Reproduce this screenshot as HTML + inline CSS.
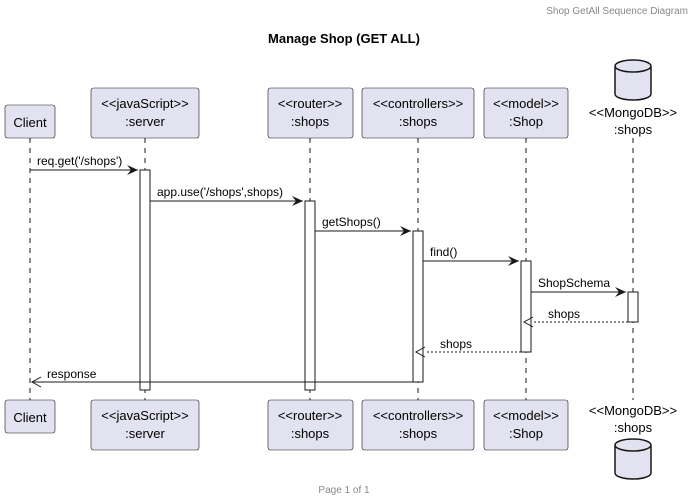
<!DOCTYPE html>
<html><head><meta charset="utf-8"><style>body{margin:0;background:#fff}svg{display:block}text{font-family:"Liberation Sans",sans-serif}</style></head><body>
<svg width="694" height="502" viewBox="0 0 694 502" xmlns="http://www.w3.org/2000/svg">
<text x="688" y="14" font-size="10" fill="#888" text-anchor="end">Shop GetAll Sequence Diagram</text>
<text x="344" y="43" font-size="13" font-weight="bold" text-anchor="middle">Manage Shop (GET ALL)</text>
<g stroke="#181818" stroke-width="1" stroke-dasharray="5,5">
<line x1="30" y1="138" x2="30" y2="400"/><line x1="145" y1="138" x2="145" y2="400"/><line x1="310" y1="138" x2="310" y2="400"/><line x1="418" y1="138" x2="418" y2="400"/><line x1="526" y1="138" x2="526" y2="400"/><line x1="633" y1="138" x2="633" y2="400"/>
</g>
<g fill="#fff" stroke="#181818">
<rect x="140" y="170" width="10" height="220"/><rect x="305" y="201" width="10" height="189"/><rect x="413" y="231" width="10" height="151"/><rect x="521" y="261" width="10" height="91"/><rect x="628" y="292" width="10" height="30"/>
</g>
<g fill="#E2E2F0" stroke="#181818" stroke-width="0.6">
<rect x="5" y="105" width="50" height="33" rx="2.5"/><rect x="91" y="88" width="108" height="50" rx="2.5"/><rect x="268" y="88" width="85" height="50" rx="2.5"/><rect x="362" y="88" width="112" height="50" rx="2.5"/><rect x="484" y="88" width="84" height="50" rx="2.5"/>
<rect x="5" y="400" width="50" height="33" rx="2.5"/><rect x="91" y="400" width="108" height="50" rx="2.5"/><rect x="268" y="400" width="85" height="50" rx="2.5"/><rect x="362" y="400" width="112" height="50" rx="2.5"/><rect x="484" y="400" width="84" height="50" rx="2.5"/>
</g>
<g fill="#E2E2F0" stroke="#181818" stroke-width="1.5">
<path d="M615,66 v28 a18,6 0 0 0 36,0 v-28 a18,6 0 0 0 -36,0 a18,6 0 0 0 36,0"/>
<path d="M615,445 v28 a18,6 0 0 0 36,0 v-28 a18,6 0 0 0 -36,0 a18,6 0 0 0 36,0"/>
</g>
<g font-size="13" text-anchor="middle" fill="#000">
<text x="30" y="127">Client</text><text x="145" y="108">&lt;&lt;javaScript&gt;&gt;</text><text x="145" y="126">:server</text>
<text x="310" y="108">&lt;&lt;router&gt;&gt;</text><text x="310" y="126">:shops</text>
<text x="418" y="108">&lt;&lt;controllers&gt;&gt;</text><text x="418" y="126">:shops</text>
<text x="526" y="108">&lt;&lt;model&gt;&gt;</text><text x="526" y="126">:Shop</text>
<text x="633" y="117">&lt;&lt;MongoDB&gt;&gt;</text><text x="633" y="134">:shops</text>
<text x="30" y="422">Client</text><text x="145" y="420">&lt;&lt;javaScript&gt;&gt;</text><text x="145" y="438">:server</text>
<text x="310" y="420">&lt;&lt;router&gt;&gt;</text><text x="310" y="438">:shops</text>
<text x="418" y="420">&lt;&lt;controllers&gt;&gt;</text><text x="418" y="438">:shops</text>
<text x="526" y="420">&lt;&lt;model&gt;&gt;</text><text x="526" y="438">:Shop</text>
<text x="633" y="415">&lt;&lt;MongoDB&gt;&gt;</text><text x="633" y="432">:shops</text>
</g>
<g stroke="#181818" fill="none">
<line x1="30" y1="170" x2="138" y2="170"/><line x1="150" y1="201" x2="303" y2="201"/><line x1="315" y1="231" x2="411" y2="231"/><line x1="423" y1="261" x2="519" y2="261"/><line x1="531" y1="292" x2="626" y2="292"/>
<line x1="628" y1="322" x2="533" y2="322" stroke-dasharray="2,2"/><line x1="521" y1="352" x2="425" y2="352" stroke-dasharray="2,2"/>
<line x1="413" y1="382" x2="32" y2="382"/>
<path d="M533,317 l-9,5 9,5 M425,347 l-9,5 9,5 M41,377 l-9,5 9,5"/>
</g>
<g fill="#181818">
<path d="M138,170 l-11,-5 4,5 -4,5z"/><path d="M303,201 l-11,-5 4,5 -4,5z"/><path d="M411,231 l-11,-5 4,5 -4,5z"/><path d="M519,261 l-11,-5 4,5 -4,5z"/><path d="M626,292 l-11,-5 4,5 -4,5z"/>
</g>
<g font-size="12" fill="#000">
<text x="37" y="165">req.get('/shops')</text><text x="157" y="196">app.use('/shops',shops)</text><text x="322" y="226">getShops()</text><text x="430" y="256">find()</text><text x="538" y="287">ShopSchema</text>
<text x="548" y="318">shops</text><text x="440" y="348">shops</text><text x="47" y="378">response</text>
</g>
<text x="344" y="493" font-size="10" fill="#888" text-anchor="middle">Page 1 of 1</text>
</svg>
</body></html>
